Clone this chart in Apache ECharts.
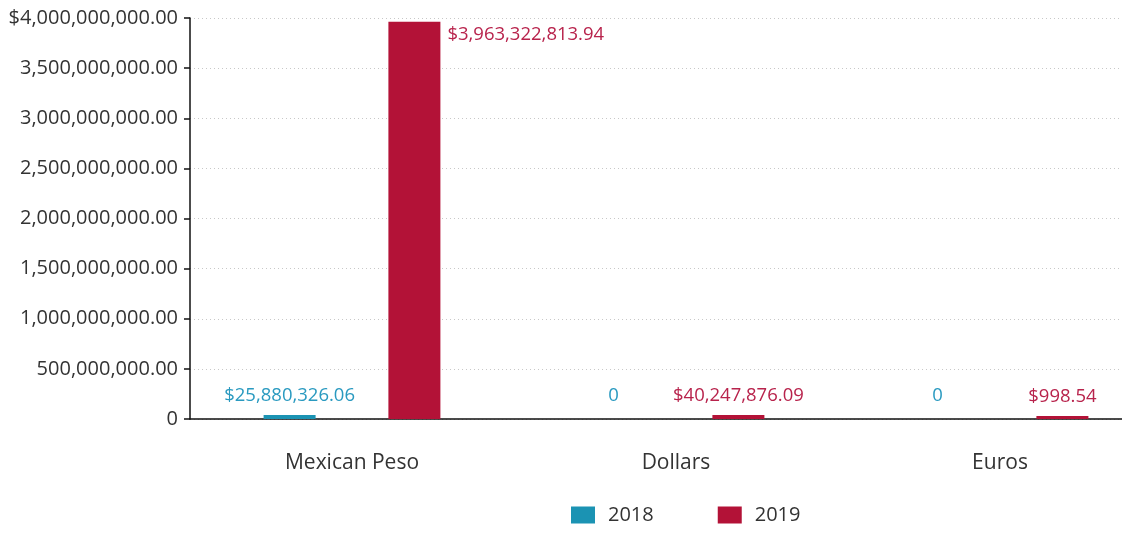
<!DOCTYPE html>
<html><head><meta charset="utf-8">
<script src="https://cdn.jsdelivr.net/npm/echarts@6/dist/echarts.min.js"></script>
<style>html,body{margin:0;padding:0;background:#fff}#c{width:1122px;height:534px}</style>
</head><body><div id="c"></div>
<script>
const categories = ['Mexican Peso', 'Dollars', 'Euros'];
const seriesNames = ['2018', '2019'];
const values2018 = [25880326.06, 0, 0];
const values2019 = [3963322813.94, 40247876.09, 998.54];
const yTicks = { min: 0, max: 4000000000, interval: 500000000 };

const FONT = '"Open Sans", "Noto Sans", sans-serif';
const C2018 = '#1b93b3', C2019 = '#b31237';
const L2018 = '#2a9ac0', L2019 = '#b8234c';

function money(v) {
  return v.toLocaleString('en-US', { minimumFractionDigits: 2, maximumFractionDigits: 2 });
}
function barLabel(v) { return v === 0 ? '0' : '$' + money(v); }

const chart = echarts.init(document.getElementById('c'), null, { renderer: 'canvas' });
const topIdx = values2019.indexOf(Math.max(...values2019));

function items(vals, color, special) {
  return vals.map((v, i) => {
    const o = { value: v };
    if (v === 0) o.itemStyle = { color: 'rgba(0,0,0,0)' };
    if (special && i === special.idx) o.label = special.label;
    return o;
  });
}

chart.setOption({
  animation: false,
  textStyle: { fontFamily: FONT },
  grid: { left: 190, top: 18, right: -40, bottom: 115, containLabel: false, outerBoundsMode: 'none' },
  legend: {
    bottom: 4, left: 566, itemWidth: 24, itemHeight: 17, itemGap: 64,
    icon: 'rect',
    textStyle: { fontFamily: FONT, fontSize: 20, color: '#333', padding: [0, 0, 0, 8] },
    data: seriesNames
  },
  xAxis: {
    type: 'category', data: categories,
    axisLine: { lineStyle: { color: '#111', width: 1.5 } },
    axisTick: { show: false },
    axisLabel: { fontFamily: FONT, fontSize: 21, color: '#333', margin: 34 }
  },
  yAxis: {
    type: 'value', min: yTicks.min, max: yTicks.max, interval: yTicks.interval,
    axisLine: { show: true, lineStyle: { color: '#111', width: 1.5 } },
    axisTick: { show: true, length: 6, lineStyle: { color: '#111', width: 1.5 } },
    splitLine: { lineStyle: { color: '#c8c8c8', type: [1, 3] } },
    axisLabel: {
      fontFamily: FONT, fontSize: 20, color: '#333', margin: 12,
      formatter: v => v === 0 ? '0' : (v === yTicks.max ? '$' : '') + money(v)
    }
  },
  series: [
    {
      name: seriesNames[0], type: 'bar', barWidth: 52, barGap: '140%', barMinHeight: 4,
      itemStyle: { color: C2018 },
      label: { show: true, position: 'top', distance: 10, fontFamily: FONT, fontSize: 18.5, color: L2018,
        formatter: p => barLabel(p.value) },
      data: items(values2018, C2018)
    },
    {
      name: seriesNames[1], type: 'bar', barWidth: 52, barMinHeight: 3,
      itemStyle: { color: C2019 },
      label: { show: true, position: 'top', distance: 10, fontFamily: FONT, fontSize: 18.5, color: L2019,
        formatter: p => barLabel(p.value) },
      data: items(values2019, C2019, { idx: topIdx,
        label: { position: ['100%', 0], align: 'left', verticalAlign: 'top', offset: [7, 4] } })
    }
  ]
});
</script></body></html>
